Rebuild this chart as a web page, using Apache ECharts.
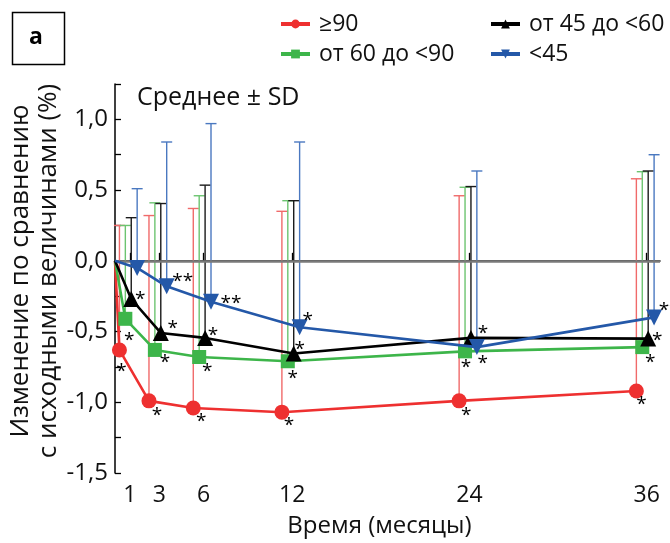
<!DOCTYPE html>
<html><head><meta charset="utf-8">
<script src="https://cdn.jsdelivr.net/npm/echarts@6/dist/echarts.min.js"></script>
<style>html,body{margin:0;padding:0;background:#fff}#c{width:670px;height:543px}</style>
</head><body><div id="c"></div>
<script>
// ---- data ----
const seriesNames = ['≥90', 'от 60 до <90', 'от 45 до <60', '<45'];
const months = [1, 3, 6, 12, 24, 36];
const meanRed   = [-0.63, -0.99, -1.04, -1.07, -0.99, -0.92];
const sdRed     = [0.88, 1.31, 1.41, 1.42, 1.45, 1.50];
const meanGreen = [-0.41, -0.63, -0.68, -0.71, -0.64, -0.61];
const sdGreen   = [0.66, 1.04, 1.14, 1.135, 1.16, 1.24];
const meanBlack = [-0.27, -0.51, -0.545, -0.655, -0.545, -0.55];
const sdBlack   = [0.575, 0.915, 1.08, 1.08, 1.07, 1.185];
const meanBlue  = [-0.05, -0.18, -0.29, -0.47, -0.61, -0.40];
const sdBlue    = [0.56, 1.02, 1.26, 1.31, 1.245, 1.15];
const starsRed   = ['*', '*', '*', '*', '*', '*'];
const starsGreen = ['*', '*', '*', '*', '*', '*'];
const starsBlack = ['*', '*', '*', '*', '*', '*'];
const starsBlue  = ['', '**', '**', '*', '*', '**'];
const yTickLabels = [-1.5, -1.0, -0.5, 0, 0.5, 1.0];

// ---- layout / style ----
const FONT = 'Open Sans';
const dodge = [-0.7, -0.3, 0.1, 0.5];
const colors = ['#ee3030', '#3db54a', '#000000', '#2458a8'];
const barColors = ['#f06a6a', '#6cc470', '#1a1a1a', '#4a78c0'];
const symbols = ['circle', 'rect', 'triangle', 'triangle'];
const symbolSizes = [15, 14, 16, 16];
const symbolRot = [0, 0, 0, 180];
const starOffsets = [
  [[2,22],[8,15],[8,14],[7,13],[7,15],[5,14]],
  [[4,22],[10,13],[8,15],[5,17],[1,16],[8,15]],
  [[9,1],[12,-4],[8,-2],[6,-4],[12,-4],[9,2]],
  [[0,0],[16,-5],[20,2],[8,-7],[6,16],[15,-7]]
];
const means = [meanRed, meanGreen, meanBlack, meanBlue];
const sds = [sdRed, sdGreen, sdBlack, sdBlue];
const stars = [starsRed, starsGreen, starsBlack, starsBlue];

const series = [];
for (let s = 0; s < 4; s++) {
  const c = barColors[s];
  series.push({
    type: 'custom', name: 'err' + s, z: 3, silent: true,
    data: months.map((m, i) => [m + dodge[s], means[s][i], sds[s][i]]),
    renderItem: function (params, api) {
      const x = api.value(0), m = api.value(1), sd = api.value(2);
      const p0 = api.coord([x, m]);
      const p1 = api.coord([x, m + sd]);
      return { type: 'group', children: [
        { type: 'line', shape: { x1: p0[0], y1: p0[1], x2: p1[0], y2: p1[1] }, style: { stroke: c, lineWidth: 1.4 } },
        { type: 'line', shape: { x1: p1[0] - 5.5, y1: p1[1], x2: p1[0] + 5.5, y2: p1[1] }, style: { stroke: c, lineWidth: 1.4 } }
      ]};
    }
  });
}
for (let s = 0; s < 4; s++) {
  const data = [{ value: [0, 0], symbol: 'none', label: { show: false } }];
  months.forEach((m, i) => {
    data.push({
      value: [m + dodge[s], means[s][i]],
      label: { show: stars[s][i] !== '', formatter: stars[s][i], offset: starOffsets[s][i] }
    });
  });
  series.push({
    type: 'line', name: seriesNames[s], z: 5 + s,
    data: data,
    color: colors[s],
    symbol: symbols[s], symbolSize: symbolSizes[s], symbolRotate: symbolRot[s],
    showAllSymbol: true,
    lineStyle: { width: 2.6, color: colors[s] },
    itemStyle: { color: colors[s] },
    label: { position: 'inside', color: '#000', fontSize: 19, fontFamily: FONT, align: 'center', verticalAlign: 'middle' },
    emphasis: { disabled: true },
    animation: false
  });
}
series[4].markLine = {
  silent: true, symbol: 'none', label: { show: false },
  lineStyle: { color: '#7a7a7a', width: 2.5, type: 'solid' },
  data: [{ yAxis: 0 }]
};

const chart = echarts.init(document.getElementById('c'), null, { renderer: 'canvas' });
const fmt = v => (v < 0 ? '-' : '') + Math.abs(v).toFixed(1).replace('.', ',');
const legendText = { fontFamily: FONT, fontSize: 23, lineHeight: 24, color: '#111', padding: [0, 0, 0, 4] };
chart.setOption({
  animation: false,
  backgroundColor: '#fff',
  grid: { left: 115, right: 10, top: 84, bottom: 68 },
  legend: [
    { left: 274, top: 7, orient: 'vertical', itemGap: 6, itemWidth: 29, itemHeight: 11,
      lineStyle: { width: 4 }, data: [seriesNames[0], seriesNames[1]], textStyle: legendText },
    { left: 484, top: 7, orient: 'vertical', itemGap: 6, itemWidth: 29, itemHeight: 11,
      lineStyle: { width: 4 }, data: [seriesNames[2], seriesNames[3]], textStyle: legendText }
  ],
  xAxis: {
    type: 'value', min: 0, max: 36.9,
    name: 'Время (месяцы)', nameLocation: 'middle', nameGap: 41,
    nameTextStyle: { fontFamily: FONT, fontSize: 24, color: '#111', padding: [0, 16, 0, 0] },
    axisLine: { lineStyle: { color: '#000', width: 1.5 } },
    axisTick: { inside: true, length: 8, lineStyle: { color: '#000', width: 1.3 }, customValues: months },
    axisLabel: { customValues: months, fontFamily: FONT, fontSize: 23, color: '#111', margin: 11 },
    splitLine: { show: false }
  },
  yAxis: {
    type: 'value', min: -1.5, max: 1.25,
    axisLine: { show: true, lineStyle: { color: '#000', width: 1.5 } },
    axisTick: { inside: true, length: 6, lineStyle: { color: '#000', width: 1.3 },
      customValues: [-1.5, -1.25, -1, -0.75, -0.5, -0.25, 0, 0.25, 0.5, 0.75, 1, 1.25] },
    axisLabel: { customValues: yTickLabels, formatter: fmt, fontFamily: FONT, fontSize: 24, color: '#111', margin: 7 },
    splitLine: { show: false }
  },
  graphic: [
    { type: 'rect', left: 10, top: 10, shape: { width: 52, height: 52 }, style: { fill: 'none', stroke: '#000', lineWidth: 1.5 } },
    { type: 'text', x: 36, y: 37, style: { text: 'a', font: 'bold 23px "' + FONT + '"', fill: '#000', align: 'center', verticalAlign: 'middle' } },
    { type: 'text', x: 137, y: 98, style: { text: 'Среднее ± SD', font: '25px "' + FONT + '"', fill: '#111', align: 'left', verticalAlign: 'middle' } },
    { type: 'text', x: 21, y: 271, rotation: Math.PI / 2, style: { text: 'Изменение по сравнению', font: '26px "' + FONT + '"', fill: '#111', align: 'center', verticalAlign: 'middle' } },
    { type: 'text', x: 49, y: 271, rotation: Math.PI / 2, style: { text: 'с исходными величинами (%)', font: '26px "' + FONT + '"', fill: '#111', align: 'center', verticalAlign: 'middle' } }
  ],
  series: series
});
</script></body></html>
